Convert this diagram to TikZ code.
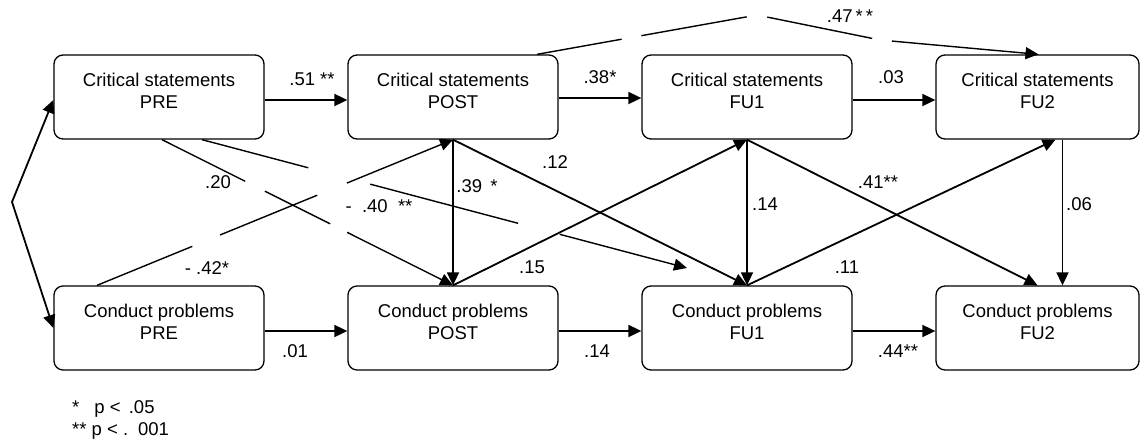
\documentclass[tikz,border=0pt]{standalone}
\usepackage{fontspec}
\setmainfont{Liberation Sans}
\usetikzlibrary{arrows.meta}

\tikzset{
  var/.style={draw, line width=1.3pt, rounded corners=9pt, minimum width=210pt,
    inner sep=0pt, align=center, text height=53pt, text depth=31pt,
    font=\fontsize{18.5}{22}\selectfont},
  coef/.style={anchor=base, inner sep=0pt, font=\fontsize{18.5}{22}\selectfont},
  effect/.style={line width=1.8pt, -{Triangle[length=13pt,width=12pt]}},
  broken/.style={line width=1.4pt, -{Triangle[length=13pt,width=12pt]}},
}

\begin{document}
\begin{tikzpicture}[x=1pt, y=-1pt]
        \useasboundingbox (0,0) rectangle (1140,442);
        % variables
        \node[var] (cspre) at (159,97) {Critical statements\\PRE};
        \node[var] (cspost) at (453,97) {Critical statements\\POST};
        \node[var] (csfu1) at (747,97) {Critical statements\\FU1};
        \node[var, minimum width=203pt] (csfu2) at (1037.5,97) {Critical statements\\FU2};
        \node[var] (cppre) at (159,328) {Conduct problems\\PRE};
        \node[var] (cppost) at (453,328) {Conduct problems\\POST};
        \node[var] (cpfu1) at (747,328) {Conduct problems\\FU1};
        \node[var, minimum width=203pt] (cpfu2) at (1037.5,328) {Conduct problems\\FU2};
        \coordinate (corr) at (12,202);
        \coordinate (tip40) at (687,268);
        \coordinate (peak47) at (757,15);
        \coordinate (bend47) at (880,40);
        % stability paths
        \draw[effect] ([yshift=-3pt]cspre.east) -- ([yshift=-3pt]cspost.west);
        \draw[effect] ([yshift=-1pt]cspost.east) -- ([yshift=-1pt]csfu1.west);
        \draw[effect] ([yshift=-3pt]csfu1.east) -- ([yshift=-3pt]csfu2.west);
        \draw[effect] ([yshift=-3pt]cppre.east) -- ([yshift=-3pt]cppost.west);
        \draw[effect] ([yshift=-3pt]cppost.east) -- ([yshift=-3pt]cpfu1.west);
        \draw[effect] ([yshift=-3pt]cpfu1.east) -- ([yshift=-3pt]cpfu2.west);
        % concurrent paths
        \draw[effect] (cspost.south) -- (cppost.north);
        \draw[effect] (csfu1.south) -- (cpfu1.north);
        \draw[effect] ([xshift=25pt]csfu2.south) -- ([xshift=25pt]cpfu2.north);
        % cross-lagged paths
        \draw[effect] (cspost.south) -- (cpfu1.north);
        \draw[effect] (cppost.north) -- (csfu1.south);
        \draw[effect] (csfu1.south) -- (cpfu2.north);
        \draw[effect] (cpfu1.north) -- ([xshift=18pt]csfu2.south);
        \draw[broken, dash pattern=on 93pt off 22pt on 73pt off 19pt on 300pt]
            ([xshift=3pt]cspre.south) -- (cppost.north);
        \draw[broken, dash pattern=on 110pt off 64pt on 153pt off 43pt on 300pt]
            ([xshift=43pt]cspre.south) -- (tip40);
        \draw[broken, dash pattern=on 103pt off 30pt on 105pt off 32pt on 300pt]
            ([xshift=-62pt]cppre.north) -- (cspost.south);
        \draw[broken, dash pattern=on 86pt off 20pt on 107pt off 21pt on 107pt off 20pt on 400pt]
            ([xshift=84pt]cspost.north) -- (peak47) -- (bend47) -- ([xshift=1pt]csfu2.north);
        % correlation
        \draw[line width=1.8pt, {Triangle[length=13pt,width=12pt]}-{Triangle[length=13pt,width=12pt]}]
            ([yshift=-3pt]cspre.west) -- (corr) -- (cppre.west);
        % coefficients
        \node[coef] (b51) at (312,85) {.51 **};
        \node[coef] (b38) at (600,83) {.38*};
        \node[coef] (b03) at (891,83) {.03};
        \node[coef] (b47) at (850,22) {.47\,*\,*};
        \node[coef] (b20) at (218,188) {.20};
        \node[coef] (b40) at (379,212) {-\ \ .40 \ **};
        \node[coef] (b42) at (207,274) {- .42*};
        \node[coef] (b39) at (477,192) {.39 \,*};
        \node[coef] (b12) at (555,168) {.12};
        \node[coef] (b14v) at (765,210) {.14};
        \node[coef] (b41) at (878,188) {.41**};
        \node[coef] (b06) at (1079,210) {.06};
        \node[coef] (b15) at (532,273) {.15};
        \node[coef] (b11) at (847,273) {.11};
        \node[coef] (b01) at (295,357) {.01};
        \node[coef] (b14h) at (597,357) {.14};
        \node[coef] (b44) at (898,357) {.44**};
        % significance
        \node[coef, anchor=base west, align=left] (legend) at (72,435)
            {*\hspace{15pt}p <\ \,.05\\** p <\ . \,001};
\end{tikzpicture}
\end{document}
